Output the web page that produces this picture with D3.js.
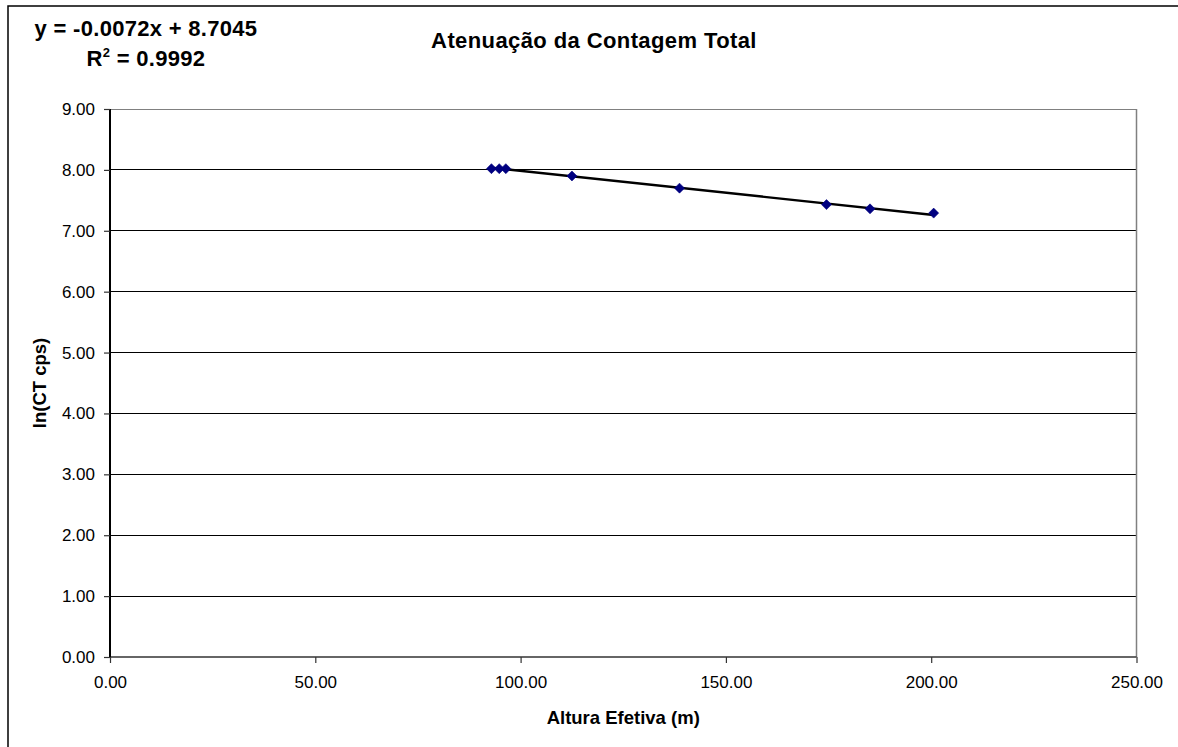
<!DOCTYPE html>
<html>
<head>
<meta charset="utf-8">
<script src="https://cdn.jsdelivr.net/npm/d3@7"></script>
<style>
  html, body { margin: 0; padding: 0; background: #fff; }
  svg { display: block; }
</style>
</head>
<body>
<svg id="chart" width="1178" height="747"></svg>
<script>
// Effective flight height (m) and log of total count rate
const heights = [92.9, 94.8, 96.4, 112.5, 138.7, 174.5, 185.1, 200.6];
const lnCounts = [8.02, 8.02, 8.02, 7.90, 7.70, 7.43, 7.36, 7.29];

// Linear trend fitted to the series
const slope = -0.0072;
const intercept = 8.7045;
const rSquared = "0.9992";

const xTicks = [0, 50, 100, 150, 200, 250];
const yTicks = [0, 1, 2, 3, 4, 5, 6, 7, 8, 9];

const titleText = "Atenuação da Contagem Total";
const xTitle = "Altura Efetiva (m)";
const yTitle = "ln(CT cps)";

const svg = d3.select("#chart");
const W = 1178, H = 747;
const plot = { left: 110, right: 1136.5, top: 109, bottom: 657 };

// plain hyphen for negative numbers
const locale = d3.formatLocale({ decimal: ".", thousands: ",", grouping: [3], currency: ["", ""], minus: "-" });
const fmt2 = locale.format(".2f");
const fmt4 = locale.format(".4f");

const x = d3.scaleLinear().domain([0, 250]).range([plot.left, plot.right]);
const y = d3.scaleLinear().domain([0, 9]).range([plot.bottom, plot.top]);

// chart area border
svg.append("rect")
  .attr("x", 8).attr("y", 6)
  .attr("width", W + 10).attr("height", H + 10)
  .attr("fill", "#fff")
  .attr("stroke", "#000").attr("stroke-width", 1.5);

// horizontal gridlines
svg.append("g")
  .selectAll("line")
  .data(yTicks.filter(d => d > 0))
  .join("line")
  .attr("x1", plot.left).attr("x2", plot.right)
  .attr("y1", d => y(d)).attr("y2", d => y(d))
  .attr("stroke", d => d === 9 ? "#808080" : "#000")
  .attr("stroke-width", 1)
  .attr("shape-rendering", "crispEdges");

// right edge of plot area
svg.append("line")
  .attr("x1", plot.right).attr("x2", plot.right)
  .attr("y1", plot.top).attr("y2", plot.bottom)
  .attr("stroke", "#808080").attr("stroke-width", 1.5);

const tickFont = "'Liberation Sans', Arial, sans-serif";

// x axis
const xAxis = d3.axisBottom(x)
  .tickValues(xTicks)
  .tickFormat(fmt2)
  .tickSize(6)
  .tickPadding(13);
const gx = svg.append("g")
  .attr("transform", `translate(0,${plot.bottom})`)
  .call(xAxis);
gx.select(".domain").attr("stroke", "#333").attr("stroke-width", 1.5)
  .attr("d", `M${plot.left},0H${plot.right}`);
gx.selectAll(".tick line").attr("stroke", "#333").attr("stroke-width", 1.2);
gx.selectAll(".tick text")
  .attr("font-family", tickFont).attr("font-size", 17)
  .attr("fill", "#000");

// y axis
const yAxis = d3.axisLeft(y)
  .tickValues(yTicks)
  .tickFormat(fmt2)
  .tickSize(6)
  .tickPadding(9);
const gy = svg.append("g")
  .attr("transform", `translate(${plot.left},0)`)
  .call(yAxis);
gy.select(".domain").attr("stroke", "#000").attr("stroke-width", 2)
  .attr("d", `M0,${plot.top}V${plot.bottom}`);
gy.selectAll(".tick line").attr("stroke", "#333").attr("stroke-width", 1.2);
gy.selectAll(".tick text")
  .attr("font-family", tickFont).attr("font-size", 17)
  .attr("fill", "#000");

// trend line across the range of the data
const xExtent = d3.extent(heights);
const trend = xExtent.map(h => [h, slope * h + intercept]);
svg.append("path")
  .datum(trend)
  .attr("d", d3.line().x(d => x(d[0])).y(d => y(d[1])))
  .attr("stroke", "#000").attr("stroke-width", 2.4)
  .attr("fill", "none");

// diamond markers
const pts = heights.map((h, i) => ({ h, v: lnCounts[i] }));
svg.append("g")
  .selectAll("path")
  .data(pts)
  .join("path")
  .attr("transform", d => `translate(${x(d.h)},${y(d.v)})`)
  .attr("d", "M0,-5L5,0L0,5L-5,0Z")
  .attr("fill", "#000080")
  .attr("stroke", "#000080").attr("stroke-width", 0.6);

const boldFont = "'Liberation Sans', Arial, sans-serif";

// chart title
svg.append("text")
  .attr("x", 594).attr("y", 48)
  .attr("text-anchor", "middle")
  .attr("font-family", boldFont).attr("font-weight", "bold")
  .attr("font-size", 22).attr("letter-spacing", 0.4)
  .text(titleText);

// axis titles
svg.append("text")
  .attr("x", (plot.left + plot.right) / 2).attr("y", 724)
  .attr("text-anchor", "middle")
  .attr("font-family", boldFont).attr("font-weight", "bold")
  .attr("font-size", 18.5)
  .text(xTitle);

svg.append("text")
  .attr("transform", `translate(46,${(plot.top + plot.bottom) / 2}) rotate(-90)`)
  .attr("text-anchor", "middle")
  .attr("font-family", boldFont).attr("font-weight", "bold")
  .attr("font-size", 18.5)
  .text(yTitle);

// trend equation and coefficient of determination
const eqText = `y = ${fmt4(slope)}x + ${fmt4(intercept)}`;
svg.append("text")
  .attr("x", 146).attr("y", 35.5)
  .attr("text-anchor", "middle")
  .attr("font-family", boldFont).attr("font-weight", "bold")
  .attr("font-size", 22).attr("letter-spacing", 0.3)
  .text(eqText);

const r2 = svg.append("text")
  .attr("x", 146).attr("y", 65.5)
  .attr("text-anchor", "middle")
  .attr("font-family", boldFont).attr("font-weight", "bold")
  .attr("font-size", 22).attr("letter-spacing", 0.3);
r2.append("tspan").text("R");
r2.append("tspan").attr("dy", -9).attr("font-size", 13).text("2");
r2.append("tspan").attr("dy", 9).text(` = ${rSquared}`);
</script>
</body>
</html>
